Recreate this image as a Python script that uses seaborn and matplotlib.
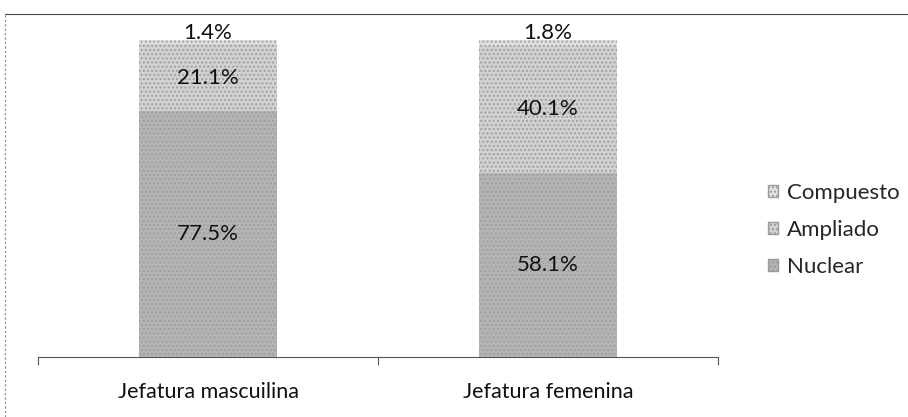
import matplotlib
matplotlib.use("Agg")
import matplotlib.pyplot as plt
from matplotlib.lines import Line2D
from matplotlib.patches import Patch
import pandas as pd
import seaborn as sns

# Data
categories = ["Jefatura mascuilina", "Jefatura femenina"]
nuclear = [77.5, 58.1]
ampliado = [21.1, 40.1]
compuesto = [1.4, 1.8]
colors = {"Nuclear": "#b4b4b4", "Ampliado": "#d2d2d2", "Compuesto": "#e2e2e2"}

sns.set_theme(style="white")
plt.rcParams['font.family'] = ['Lato', 'DejaVu Sans']

df = pd.DataFrame({"cat": categories, "Nuclear": nuclear,
                   "Ampliado": ampliado, "Compuesto": compuesto})
df["cum_nuc"] = df["Nuclear"]
df["cum_amp"] = df["Nuclear"] + df["Ampliado"]
df["cum_comp"] = df["cum_amp"] + df["Compuesto"]

fig = plt.figure(figsize=(9.08, 4.17), dpi=100)
ax = fig.add_axes([38 / 908, 1 - 357 / 417, 680 / 908, 317 / 417])

# stacked bars by drawing cumulative totals back to front
for col, name in [("cum_comp", "Compuesto"), ("cum_amp", "Ampliado"), ("cum_nuc", "Nuclear")]:
    sns.barplot(data=df, x="cat", y=col, ax=ax, color=colors[name],
                width=0.406, saturation=1, linewidth=0, hatch="....")

for p in ax.patches:
    p.set_edgecolor("#a0a0a0")

# labels
for i in range(len(categories)):
    n, a, c = nuclear[i], ampliado[i], compuesto[i]
    ax.text(i, n / 2, f"{n}%", ha="center", va="center", fontsize=16, color="#111111")
    ax.text(i, n + a / 2, f"{a}%", ha="center", va="center", fontsize=16, color="#111111")
    ax.text(i, n + a + c - 1, f"{c}%", ha="center", va="bottom", fontsize=16,
            color="#111111", clip_on=False)

ax.set_xlim(-0.5, 1.5)
ax.set_ylim(0, 100)
ax.set_xlabel("")
ax.set_ylabel("")
ax.set_yticks([])
for s in ["top", "right", "left"]:
    ax.spines[s].set_visible(False)
ax.spines["bottom"].set_color("#555555")
ax.spines["bottom"].set_linewidth(0.8)
ax.set_xticks([-0.5, 0.5, 1.5], minor=True)
ax.tick_params(axis="x", which="minor", bottom=True, length=6, color="#555555", width=0.8)
ax.tick_params(axis="x", which="major", bottom=False, length=0, pad=18, labelsize=15.5,
               labelcolor="#111111")

# legend
handles = [Patch(facecolor=colors[n], edgecolor="#9a9a9a", hatch="....", label=n)
           for n in ["Compuesto", "Ampliado", "Nuclear"]]
fig.legend(handles=handles, loc="center left", bbox_to_anchor=(748 / 908, 1 - 230 / 417),
           frameon=False, fontsize=16, handlelength=0.45, handleheight=0.45,
           handletextpad=0.4, labelspacing=0.75)

# chart frame (top and left edges visible in the scan)
fig.add_artist(Line2D([5 / 908, 1], [1 - 14 / 417, 1 - 14 / 417],
                      transform=fig.transFigure, color="#444444", lw=0.8))
fig.add_artist(Line2D([5 / 908, 5 / 908], [0, 1 - 14 / 417],
                      transform=fig.transFigure, color="#888888", lw=0.8, ls=(0, (2, 2))))

fig.savefig("out.png", dpi=100)
